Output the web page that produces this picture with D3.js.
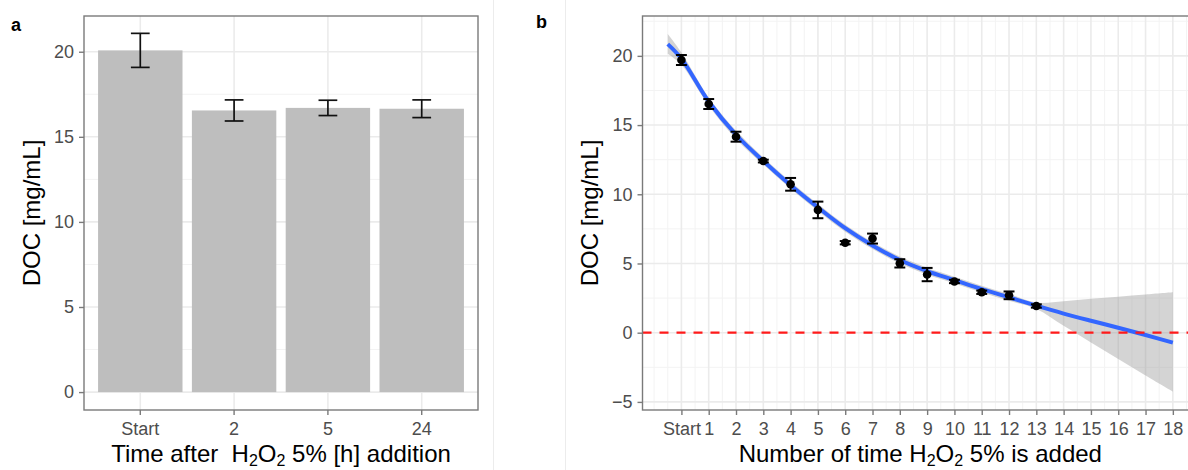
<!DOCTYPE html>
<html>
<head>
<meta charset="utf-8">
<script src="https://cdn.jsdelivr.net/npm/d3@7"></script>
<style>
  html, body { margin: 0; padding: 0; background: #fff; }
  svg text { font-family: "Liberation Sans", Arial, Helvetica, sans-serif; }
</style>
</head>
<body>
<svg id="chart" width="1188" height="470"></svg>
<script>
// ---------- Data: panel a ----------
const catsA = ["Start", "2", "5", "24"];
const meanA = [20.08, 16.55, 16.7, 16.65];
const errA = [1.0, 0.62, 0.45, 0.52];
const yTicksA = [0, 5, 10, 15, 20];

// ---------- Data: panel b ----------
const xB = [0, 1, 2, 3, 4, 5, 6, 7, 8, 9, 10, 11, 12, 13];
const meanB = [19.7, 16.52, 14.16, 12.4, 10.72, 8.87, 6.5, 6.8, 5.01, 4.2, 3.7, 2.92, 2.7, 1.93];
const errB = [0.36, 0.36, 0.36, 0.1, 0.46, 0.6, 0.12, 0.36, 0.3, 0.48, 0.12, 0.12, 0.28, 0.12];
const fitX = [-0.5, 0, 1, 2, 3, 4, 5, 6, 7, 8, 9, 10, 11, 12, 13, 14, 15, 16, 17, 18];
const fitY = [20.85, 19.8, 16.7, 14.3, 12.4, 10.65, 9.05, 7.55, 6.3, 5.25, 4.45, 3.8, 3.15, 2.55, 1.95, 1.38, 0.86, 0.36, -0.17, -0.72];
const fitLo = [20.15, 19.35, 16.4, 14.0, 12.15, 10.4, 8.8, 7.3, 6.05, 5.0, 4.2, 3.55, 2.9, 2.3, 1.72, 0.5, -0.7, -1.9, -3.1, -4.26];
const fitHi = [21.58, 20.25, 17.0, 14.6, 12.65, 10.9, 9.3, 7.8, 6.55, 5.5, 4.7, 4.05, 3.4, 2.8, 2.18, 2.28, 2.45, 2.6, 2.76, 2.92];
const xTickLabelsB = ["Start", "1", "2", "3", "4", "5", "6", "7", "8", "9", "10", "11", "12", "13", "14", "15", "16", "17", "18"];
const yTicksB = [-5, 0, 5, 10, 15, 20];
const refLineB = [0];

const svg = d3.select("#chart");
const TICK_COLOR = "#4d4d4d";
const GRID_MAJOR = "#ebebeb";
const GRID_MINOR = "#f3f3f3";
const BORDER = "#7a7a7a";

// faint plot separators
[493.5, 565.5].forEach(x => {
  svg.append("line").attr("x1", x).attr("x2", x).attr("y1", 0).attr("y2", 470)
    .attr("stroke", "#ececec").attr("stroke-width", 1);
});

// ================= Panel a =================
const A = { left: 84, right: 478, top: 16, bottom: 410 };
const xA = d3.scaleBand().domain(catsA).range([A.left, A.right]).paddingInner(0.1).paddingOuter(0.15);
const yA = d3.scaleLinear().domain([-1.053, 22.1]).range([A.bottom, A.top]);
const gA = svg.append("g");

const minorA = d3.range(2.5, 22.1, 5);
gA.selectAll(".minA").data(minorA).enter().append("line")
  .attr("x1", A.left).attr("x2", A.right).attr("y1", d => yA(d)).attr("y2", d => yA(d))
  .attr("stroke", GRID_MINOR).attr("stroke-width", 1);
gA.selectAll(".majA").data(yTicksA).enter().append("line")
  .attr("x1", A.left).attr("x2", A.right).attr("y1", d => yA(d)).attr("y2", d => yA(d))
  .attr("stroke", GRID_MAJOR).attr("stroke-width", 1.6);
gA.selectAll(".vA").data(catsA).enter().append("line")
  .attr("x1", d => xA(d) + xA.bandwidth() / 2).attr("x2", d => xA(d) + xA.bandwidth() / 2)
  .attr("y1", A.top).attr("y2", A.bottom)
  .attr("stroke", GRID_MAJOR).attr("stroke-width", 1.6);

gA.selectAll(".bar").data(catsA).enter().append("rect")
  .attr("x", d => xA(d)).attr("width", xA.bandwidth())
  .attr("y", (d, i) => yA(meanA[i])).attr("height", (d, i) => yA(0) - yA(meanA[i]))
  .attr("fill", "#bebebe");

const capA = xA.step() * 0.1;
catsA.forEach((c, i) => {
  const cx = xA(c) + xA.bandwidth() / 2;
  const g = gA.append("g").attr("stroke", "#111").attr("stroke-width", 1.7).attr("fill", "none");
  g.append("line").attr("x1", cx).attr("x2", cx).attr("y1", yA(meanA[i] - errA[i])).attr("y2", yA(meanA[i] + errA[i]));
  g.append("line").attr("x1", cx - capA).attr("x2", cx + capA).attr("y1", yA(meanA[i] - errA[i])).attr("y2", yA(meanA[i] - errA[i]));
  g.append("line").attr("x1", cx - capA).attr("x2", cx + capA).attr("y1", yA(meanA[i] + errA[i])).attr("y2", yA(meanA[i] + errA[i]));
});

gA.append("rect").attr("x", A.left).attr("y", A.top).attr("width", A.right - A.left).attr("height", A.bottom - A.top)
  .attr("fill", "none").attr("stroke", BORDER).attr("stroke-width", 1.4);

const axAy = d3.axisLeft(yA).tickValues(yTicksA).tickSize(5).tickPadding(5);
const gAy = gA.append("g").attr("transform", `translate(${A.left},0)`).call(axAy);
const axAx = d3.axisBottom(xA).tickSize(5).tickPadding(7);
const gAx = gA.append("g").attr("transform", `translate(0,${A.bottom})`).call(axAx);
[gAy, gAx].forEach(g => {
  g.select(".domain").remove();
  g.selectAll(".tick line").attr("stroke", BORDER).attr("stroke-width", 1.4);
  g.selectAll(".tick text").attr("fill", TICK_COLOR).style("font-size", "18px").style("font-family", "Liberation Sans, Arial, sans-serif");
});
gAx.selectAll(".tick text").attr("dy", "0.71em");

const titleAx = gA.append("text").attr("x", (A.left + A.right) / 2).attr("y", 462)
  .attr("text-anchor", "middle").style("font-size", "24px").style("white-space", "pre").attr("fill", "#000");
titleAx.append("tspan").text("Time after  H");
titleAx.append("tspan").text("2").style("font-size", "16px").attr("dy", 3.5);
titleAx.append("tspan").text("O").attr("dy", -3.5);
titleAx.append("tspan").text("2").style("font-size", "16px").attr("dy", 3.5);
titleAx.append("tspan").text(" 5% [h] addition").attr("dy", -3.5);

gA.append("text").attr("transform", `translate(39.5,${(A.top + A.bottom) / 2}) rotate(-90)`)
  .attr("text-anchor", "middle").style("font-size", "24px").attr("fill", "#000").text("DOC [mg/mL]");

svg.append("text").attr("x", 11).attr("y", 31).style("font-size", "18px").style("font-weight", "bold").text("a");

// ================= Panel b =================
const B = { left: 642.5, right: 1198.1, top: 16, bottom: 410 };
const xBs = d3.scaleLinear().domain([-1.425, 18.925]).range([B.left, B.right]);
const yBs = d3.scaleLinear().domain([-5.585, 22.88]).range([B.bottom, B.top]);
const gB = svg.append("g");

const minorYB = [-2.5, 2.5, 7.5, 12.5, 17.5, 22.5];
const minorXB = d3.range(-1, 19, 0.5).filter(v => !(Number.isInteger(v) && v >= 0 && v <= 18));
const majorXB = d3.range(0, 19, 1);
gB.selectAll(".minyB").data(minorYB).enter().append("line")
  .attr("x1", B.left).attr("x2", B.right).attr("y1", d => yBs(d)).attr("y2", d => yBs(d))
  .attr("stroke", GRID_MINOR).attr("stroke-width", 1);
gB.selectAll(".minxB").data(minorXB).enter().append("line")
  .attr("x1", d => xBs(d)).attr("x2", d => xBs(d)).attr("y1", B.top).attr("y2", B.bottom)
  .attr("stroke", GRID_MINOR).attr("stroke-width", 1);
gB.selectAll(".majyB").data(yTicksB).enter().append("line")
  .attr("x1", B.left).attr("x2", B.right).attr("y1", d => yBs(d)).attr("y2", d => yBs(d))
  .attr("stroke", GRID_MAJOR).attr("stroke-width", 1.6);
gB.selectAll(".majxB").data(majorXB).enter().append("line")
  .attr("x1", d => xBs(d)).attr("x2", d => xBs(d)).attr("y1", B.top).attr("y2", B.bottom)
  .attr("stroke", GRID_MAJOR).attr("stroke-width", 1.6);

const fitData = fitX.map((x, i) => ({ x, y: fitY[i], lo: fitLo[i], hi: fitHi[i] }));
const area = d3.area().x(d => xBs(d.x)).y0(d => yBs(d.lo)).y1(d => yBs(d.hi)).curve(d3.curveCatmullRom);
gB.append("path").datum(fitData).attr("d", area).attr("fill", "#999999").attr("fill-opacity", 0.42);

const line = d3.line().x(d => xBs(d.x)).y(d => yBs(d.y)).curve(d3.curveCatmullRom);
gB.append("path").datum(fitData).attr("d", line).attr("fill", "none")
  .attr("stroke", "#3366ff").attr("stroke-width", 4);

gB.selectAll(".ref").data(refLineB).enter().append("line")
  .attr("x1", B.left).attr("x2", B.right).attr("y1", d => yBs(d)).attr("y2", d => yBs(d))
  .attr("stroke", "#ff1a1a").attr("stroke-width", 2.2).attr("stroke-dasharray", "9,8");

const capB = 0.2;
xB.forEach((x, i) => {
  const g = gB.append("g").attr("stroke", "#000").attr("stroke-width", 2).attr("fill", "none");
  const y0 = yBs(meanB[i] - errB[i]), y1 = yBs(meanB[i] + errB[i]);
  g.append("line").attr("x1", xBs(x)).attr("x2", xBs(x)).attr("y1", y0).attr("y2", y1);
  g.append("line").attr("x1", xBs(x - capB)).attr("x2", xBs(x + capB)).attr("y1", y0).attr("y2", y0);
  g.append("line").attr("x1", xBs(x - capB)).attr("x2", xBs(x + capB)).attr("y1", y1).attr("y2", y1);
});
gB.selectAll(".pt").data(xB).enter().append("circle")
  .attr("cx", d => xBs(d)).attr("cy", (d, i) => yBs(meanB[i])).attr("r", 4.3).attr("fill", "#000");

gB.append("rect").attr("x", B.left).attr("y", B.top).attr("width", B.right - B.left).attr("height", B.bottom - B.top)
  .attr("fill", "none").attr("stroke", BORDER).attr("stroke-width", 1.4);

const axBy = d3.axisLeft(yBs).tickValues(yTicksB).tickSize(5).tickPadding(5);
const gBy = gB.append("g").attr("transform", `translate(${B.left},0)`).call(axBy);
const axBx = d3.axisBottom(xBs).tickValues(majorXB).tickFormat((d, i) => xTickLabelsB[i]).tickSize(5).tickPadding(7);
const gBx = gB.append("g").attr("transform", `translate(0,${B.bottom})`).call(axBx);
[gBy, gBx].forEach(g => {
  g.select(".domain").remove();
  g.selectAll(".tick line").attr("stroke", BORDER).attr("stroke-width", 1.4);
  g.selectAll(".tick text").attr("fill", TICK_COLOR).style("font-size", "18px").style("font-family", "Liberation Sans, Arial, sans-serif");
});
gBx.selectAll(".tick text").attr("dy", "0.71em");

const titleBx = gB.append("text").attr("x", (B.left + B.right) / 2).attr("y", 462)
  .attr("text-anchor", "middle").style("font-size", "24px").style("white-space", "pre").attr("fill", "#000");
titleBx.append("tspan").text("Number of time H");
titleBx.append("tspan").text("2").style("font-size", "16px").attr("dy", 3.5);
titleBx.append("tspan").text("O").attr("dy", -3.5);
titleBx.append("tspan").text("2").style("font-size", "16px").attr("dy", 3.5);
titleBx.append("tspan").text(" 5% is added").attr("dy", -3.5);

gB.append("text").attr("transform", `translate(598,${(B.top + B.bottom) / 2}) rotate(-90)`)
  .attr("text-anchor", "middle").style("font-size", "24px").attr("fill", "#000").text("DOC [mg/mL]");

svg.append("text").attr("x", 536).attr("y", 28).style("font-size", "18px").style("font-weight", "bold").text("b");
</script>
</body>
</html>
